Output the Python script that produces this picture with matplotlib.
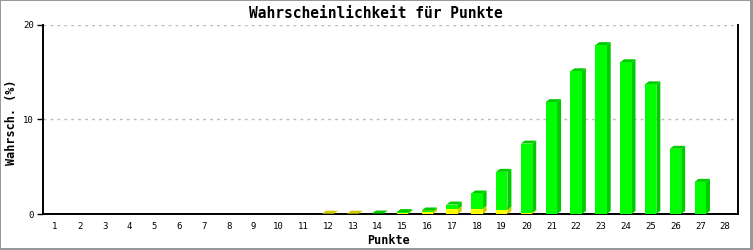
import matplotlib
matplotlib.use("Agg")
import matplotlib.pyplot as plt
from matplotlib.patches import Polygon, Rectangle

# Data
punkte = list(range(1, 29))
gelb = [0, 0, 0, 0, 0, 0, 0, 0, 0, 0, 0, 0.03, 0.03, 0, 0.08, 0.25, 0.53, 0.57,
        0.46, 0.15, 0, 0, 0, 0, 0, 0, 0, 0]
gruen = [0, 0, 0, 0, 0, 0, 0, 0, 0, 0, 0, 0, 0, 0.05, 0.12, 0.12, 0.47, 1.6,
         4.0, 7.3, 11.84, 15.1, 17.87, 16.06, 13.72, 6.9, 3.4, 0]

font = "DejaVu Sans Mono"
W, H = 753, 250
fig = plt.figure(figsize=(W / 100, H / 100), dpi=100, facecolor="#999999")
# white inner area, leaves a thin grey frame (thicker right/bottom)
fig.patches.append(Rectangle((1 / W, 2 / H), 749 / W, 247 / H, transform=fig.transFigure,
                             fc="white", ec="none", zorder=-10))

ax = fig.add_axes([43 / W, 36 / H, 695 / W, 189 / H])
ax.set_facecolor("none")
ax.set_xlim(0.52, 28.52)
ax.set_ylim(0, 20)

bw = 0.46
dx = 4 / 24.8   # 3D depth in data units
dy = 3 / 9.45


def bar3d(x, y0, h, front, dark):
    if h <= 0:
        return
    xl, xr, y1 = x - bw / 2, x + bw / 2, y0 + h
    ax.add_patch(Polygon([(xr, y0), (xr + dx, y0 + dy), (xr + dx, y1 + dy), (xr, y1)],
                         closed=True, fc=dark, ec="none", zorder=3))
    ax.add_patch(Polygon([(xl, y1), (xl + dx, y1 + dy), (xr + dx, y1 + dy), (xr, y1)],
                         closed=True, fc=dark, ec="none", zorder=3))
    ax.bar(x, h, bottom=y0, width=bw, color=front, edgecolor="none", zorder=4)


for x, g in zip(punkte, gelb):
    bar3d(x, 0, g, "#FFFF00", "#CCCC00")
for x, g, gr in zip(punkte, gelb, gruen):
    bar3d(x, g, gr, "#00FF00", "#00CC00")

ax.set_yticks([0, 10, 20])
ax.set_xticks(punkte)
for y in [10, 20]:
    ax.axhline(y, color="#BBBBBB", lw=1, ls=(0, (2, 3)), zorder=1)

for s in ["left", "bottom", "right"]:
    ax.spines[s].set_color("black")
    ax.spines[s].set_linewidth(1.4)
ax.spines["top"].set_visible(False)
ax.tick_params(axis="y", length=4.5, width=1, pad=2, labelsize=6.5)
ax.tick_params(axis="x", length=0, pad=6, labelsize=6.5)
for lab in ax.get_xticklabels() + ax.get_yticklabels():
    lab.set_family(font)

fig.text(376 / W, 1 - 13 / H, "Wahrscheinlichkeit für Punkte", ha="center", va="center",
         family=font, fontweight="bold", fontsize=10.5)
fig.text(388 / W, 1 - 240 / H, "Punkte", ha="center", va="center",
         family=font, fontweight="bold", fontsize=8.5)
fig.text(12 / W, 1 - 122 / H, "Wahrsch. (%)", ha="center", va="center", rotation=90,
         family=font, fontweight="bold", fontsize=8.5)

fig.savefig("out.png", dpi=100, facecolor=fig.get_facecolor())
